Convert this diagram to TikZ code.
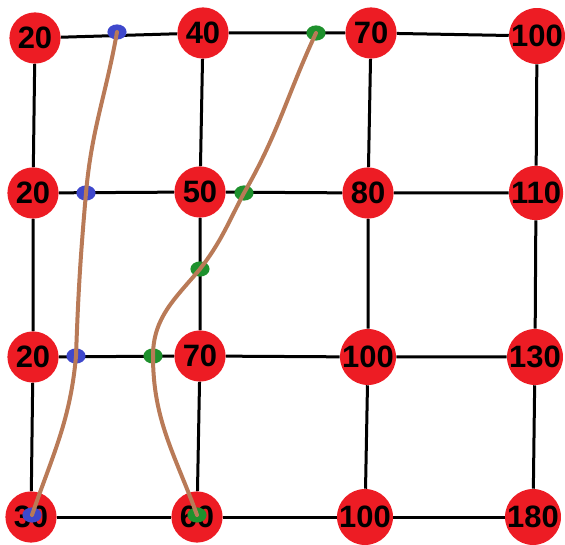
\documentclass[tikz,border=0pt]{standalone}
\usepackage{fontspec}
\setmainfont{Liberation Sans}
\usepackage{xcolor}
\usetikzlibrary{shapes.geometric}

\definecolor{cellred}{RGB}{237,28,36}
\definecolor{dotblue}{RGB}{63,72,204}
\definecolor{dotgreen}{RGB}{30,145,45}
\definecolor{seambrown}{RGB}{185,122,87}

\tikzset{
    cell/.style={circle, fill=cellred, minimum size=1.28cm, inner sep=0pt,
        font=\fontsize{22}{22}\selectfont\bfseries},
    gridline/.style={line width=0.075cm, black},
    bluedot/.style={ellipse, fill=dotblue, minimum width=0.48cm, minimum height=0.38cm, inner sep=0pt},
    greendot/.style={ellipse, fill=dotgreen, minimum width=0.48cm, minimum height=0.38cm, inner sep=0pt},
    seam/.style={line width=0.1cm, seambrown, line cap=round}
}

\begin{document}
\begin{tikzpicture}
        \useasboundingbox (0,0) rectangle (14.125,13.6);

        % Top row
        \node[cell] (n11) at (0.875,12.65) {20};
        \node[cell] (n12) at (5.075,12.775) {40};
        \node[cell] (n13) at (9.275,12.775) {70};
        \node[cell] (n14) at (13.425,12.7) {100};

        % Second row
        \node[cell] (n21) at (0.825,8.775) {20};
        \node[cell] (n22) at (5.0,8.8) {50};
        \node[cell] (n23) at (9.2,8.775) {80};
        \node[cell] (n24) at (13.4,8.775) {110};

        % Third row
        \node[cell] (n31) at (0.825,4.675) {20};
        \node[cell] (n32) at (5.0,4.7) {70};
        \node[cell] (n33) at (9.2,4.675) {100};
        \node[cell] (n34) at (13.375,4.675) {130};

        % Bottom row
        \node[cell] (n41) at (0.775,0.675) {30};
        \node[cell] (n42) at (4.925,0.675) {60};
        \node[cell] (n43) at (9.125,0.675) {100};
        \node[cell] (n44) at (13.325,0.675) {180};

        % Horizontal lines
        \draw[gridline] (n11) -- (n12) -- (n13) -- (n14);
        \draw[gridline] (n21) -- (n22) -- (n23) -- (n24);
        \draw[gridline] (n31) -- (n32) -- (n33) -- (n34);
        \draw[gridline] (n41) -- (n42) -- (n43) -- (n44);

        % Vertical lines
        \draw[gridline] (n11) -- (n21) -- (n31) -- (n41);
        \draw[gridline] (n12) -- (n22) -- (n32) -- (n42);
        \draw[gridline] (n13) -- (n23) -- (n33) -- (n43);
        \draw[gridline] (n14) -- (n24) -- (n34) -- (n44);

        % Blue seam dots
        \node[bluedot] (b1) at (2.925,12.8) {};
        \node[bluedot] (b2) at (2.15,8.775) {};
        \node[bluedot] (b3) at (1.9,4.7) {};
        \node[bluedot] (b4) at (0.8,0.725) {};

        % Green seam dots
        \node[greendot] (g1) at (7.9,12.775) {};
        \node[greendot] (g2) at (6.1,8.775) {};
        \node[greendot] (g3) at (5.0,6.875) {};
        \node[greendot] (g4) at (3.825,4.7) {};
        \node[greendot] (g5) at (4.925,0.725) {};

        % Seams
        \draw[seam] (b1.center) to[out=-100, in=85] (b2.center)
            to[out=-95, in=88] (b3.center) to[out=-95, in=71] (b4.center);
        \draw[seam] (g1.center) to[out=-115, in=60] (g2.center)
            to[out=-118, in=52] (g3.center) to[out=-130, in=90] (g4.center)
            to[out=-90, in=110] (g5.center);

    \end{tikzpicture}
\end{document}
